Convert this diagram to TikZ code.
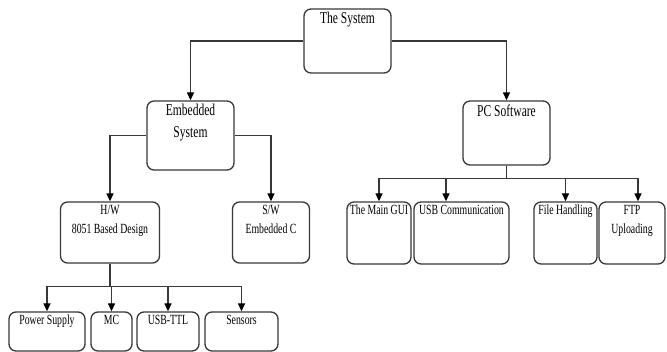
\documentclass[tikz,border=0pt]{standalone}
\usepackage{fontspec}
\setmainfont{Liberation Serif}[FakeStretch=0.7]
\usetikzlibrary{positioning, arrows.meta}
\colorlet{linegray}{black!78}

\tikzset{
  box/.style={draw=linegray, line width=1.3pt, rounded corners=7pt, inner sep=0pt},
  titletxt/.style={label={[anchor=north, align=center, inner sep=4pt, font=\fontsize{16.5}{22}\selectfont, text=black]north:#1}},
  subtxt/.style={label={[anchor=north, align=center, inner sep=3.5pt, font=\fontsize{14}{19}\selectfont, text=black]north:#1}},
  conn/.style={draw=linegray, line width=1.3pt},
  arr/.style={conn, -{Triangle[length=8pt, width=7pt, color=black]}}
}

\begin{document}
\begin{tikzpicture}[x=1pt, y=-1pt]
  \useasboundingbox (0,0) rectangle (667,352);

  % top levels
  \node[box, minimum width=87pt, minimum height=64pt, titletxt={The System}] (sys) at (347.5,41) {};
  \node[box, minimum width=87pt, minimum height=69pt, titletxt={Embedded\\System}] (emb) at (190.5,135.5) {};
  \node[box, minimum width=87pt, minimum height=64pt, titletxt={PC Software}] (pc) at (506.5,133) {};

  % embedded side
  \node[box, minimum width=99pt, minimum height=61pt, subtxt={H/W\\8051 Based Design}] (hw) at (110,232.5) {};
  \node[box, minimum width=77pt, minimum height=61pt, subtxt={S/W\\Embedded C}] (sw) at (271,232.5) {};
  \node[box, minimum width=76pt, minimum height=39pt, subtxt={Power Supply}] (ps) at (47,331.5) {};
  \node[box, minimum width=41pt, minimum height=39pt, subtxt={MC}] (mc) at (111.5,331.5) {};
  \node[box, minimum width=62pt, minimum height=39pt, subtxt={USB-TTL}] (usbttl) at (168,331.5) {};
  \node[box, minimum width=73pt, minimum height=39pt, subtxt={Sensors}] (sens) at (241.5,331.5) {};

  % pc side
  \node[box, minimum width=64pt, minimum height=62pt, subtxt={The Main GUI}] (gui) at (379,233) {};
  \node[box, minimum width=95pt, minimum height=62pt, subtxt={USB Communication}] (usbc) at (461.5,233) {};
  \node[box, minimum width=63pt, minimum height=62pt, subtxt={File Handling}] (fh) at (565.5,233) {};
  \node[box, minimum width=66pt, minimum height=62pt, subtxt={FTP\\Uploading}] (ftp) at (632,233) {};

  % connectors
  \draw[arr] (sys.west) -| (emb.north);
  \draw[arr] (sys.east) -| (pc.north);
  \draw[arr] (emb.west) -| (hw.north);
  \draw[arr] (emb.east) -| (sw.north);

  \draw[conn] (hw.south) -- ++(0,23) coordinate (hwj);
  \foreach \n in {ps,mc,usbttl,sens}
    \draw[arr] (hwj) -| (\n.north);

  \draw[conn] (pc.south) -- ++(0,13) coordinate (pcj);
  \draw[arr] (pcj) -| (gui.north);
  \draw[arr] (pcj) -| ([xshift=-15.5pt]usbc.north);
  \draw[arr] (pcj) -| (fh.north);
  \draw[arr] (pcj) -| ([xshift=6pt]ftp.north);
\end{tikzpicture}
\end{document}
